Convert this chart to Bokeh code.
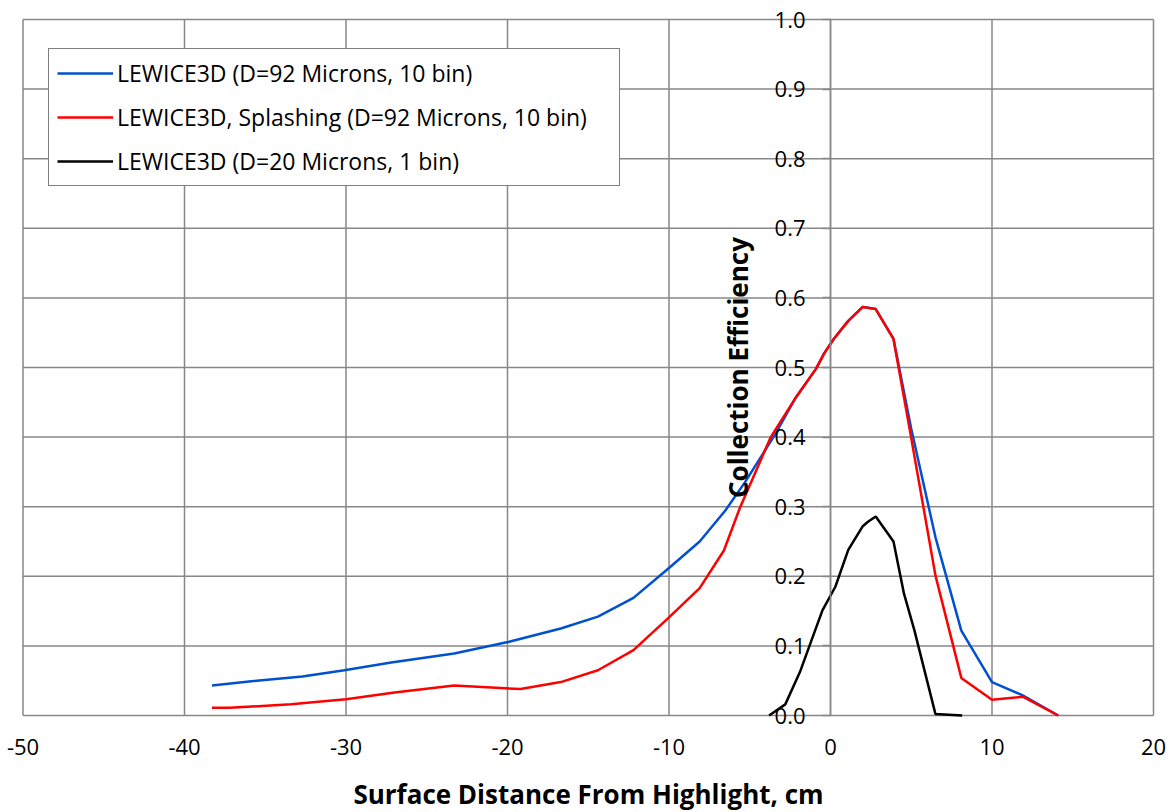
from bokeh.plotting import figure
from bokeh.models import FixedTicker, Legend, LegendItem, Range1d
from bokeh.embed import file_html
from bokeh.resources import INLINE

# ---- data ----
blue_x = [-38.3, -36.0, -32.7, -30.1, -27.2, -23.3, -19.9, -16.7, -14.4, -12.2, -10.0,
          -8.1, -6.5, -5.3, -3.4, -2.2, -0.9, -0.4, 0.2, 1.1, 2.0, 2.8, 3.9, 5.0, 6.5,
          8.1, 10.0, 11.9, 14.1]
blue_y = [0.043, 0.049, 0.056, 0.065, 0.076, 0.089, 0.106, 0.125, 0.142, 0.169, 0.212,
          0.250, 0.295, 0.335, 0.405, 0.455, 0.498, 0.520, 0.541, 0.567, 0.587, 0.584,
          0.541, 0.412, 0.256, 0.122, 0.048, 0.029, 0.0]

red_x = [-38.3, -37.2, -33.4, -30.0, -27.0, -23.3, -19.2, -16.7, -14.4, -12.2, -10.0,
         -8.1, -6.6, -5.6, -3.7, -2.2, -0.9, -0.4, 0.2, 1.1, 2.0, 2.8, 3.9, 4.95, 6.5,
         8.1, 10.0, 11.9, 14.1]
red_y = [0.011, 0.011, 0.016, 0.0235, 0.033, 0.043, 0.038, 0.048, 0.065, 0.094, 0.141,
         0.183, 0.237, 0.299, 0.400, 0.455, 0.498, 0.520, 0.541, 0.567, 0.587, 0.584,
         0.541, 0.405, 0.201, 0.054, 0.0225, 0.027, 0.0]

black_x = [-3.8, -2.8, -1.9, -0.5, 0.3, 1.1, 2.0, 2.3, 2.8, 3.9, 4.55, 5.2, 6.5, 8.15]
black_y = [0.0, 0.016, 0.062, 0.151, 0.185, 0.238, 0.272, 0.278, 0.286, 0.250, 0.175,
           0.122, 0.002, 0.0]

labels = ["LEWICE3D (D=92 Microns, 10 bin)",
          "LEWICE3D, Splashing (D=92 Microns, 10 bin)",
          "LEWICE3D (D=20 Microns, 1 bin)"]

x_ticks = [-50, -40, -30, -20, -10, 0, 10, 20]
y_ticks = [0.0, 0.1, 0.2, 0.3, 0.4, 0.5, 0.6, 0.7, 0.8, 0.9, 1.0]
y_tick_labels = ["0.0", "0.1", "0.2", "0.3", "0.4", "0.5", "0.6", "0.7", "0.8", "0.9", "1.0"]

x_title = "Surface Distance From Highlight, cm"
y_title = "Collection Efficiency"

FONT = "Open Sans"
GRID = "#878787"

# canvas geometry (pixels): the data box spans x 22.5..1153, y 19..715
W, H = 1170, 810
LEFT, RIGHT, TOP, BOTTOM = 22.5, 1153.0, 19.0, 715.0
X0, X1 = x_ticks[0], x_ticks[-1]
Y0, Y1 = y_ticks[0], y_ticks[-1]
sx = (X1 - X0) / (RIGHT - LEFT)
sy = (Y1 - Y0) / (BOTTOM - TOP)
x_range = Range1d(X0 - LEFT * sx, X1 + (W - RIGHT) * sx)
y_range = Range1d(Y0 - (H - BOTTOM) * sy, Y1 + TOP * sy)

p = figure(width=W, height=H, x_range=x_range, y_range=y_range,
           output_backend="svg", toolbar_location=None, min_border=0)
p.background_fill_color = "white"
p.border_fill_color = "white"
p.outline_line_color = None
p.xgrid.visible = False
p.ygrid.visible = False

# grid / frame lines limited to the data box
n, m = len(x_ticks), len(y_ticks)
p.segment(x0=x_ticks, y0=[Y0] * n, x1=x_ticks, y1=[Y1] * n,
          line_color=GRID, line_width=1.5, level="underlay")
p.segment(x0=[X0] * m, y0=y_ticks, x1=[X1] * m, y1=y_ticks,
          line_color=GRID, line_width=1.5, level="underlay")

# x axis at y = 0
xa = p.xaxis[0]
xa.fixed_location = 0
xa.bounds = (X0, X1)
xa.ticker = FixedTicker(ticks=x_ticks)
xa.major_label_overrides = {t: str(t) for t in x_ticks}
xa.axis_line_color = None
xa.major_tick_line_color = None
xa.minor_tick_line_color = None
xa.major_tick_out = 0
xa.major_tick_in = 0
xa.major_label_standoff = 23
xa.major_label_text_font = FONT
xa.major_label_text_font_size = "22px"
xa.major_label_text_color = "black"
xa.axis_label = x_title
xa.axis_label_text_font = FONT
xa.axis_label_text_font_size = "26px"
xa.axis_label_text_font_style = "bold"
xa.axis_label_text_color = "black"
xa.axis_label_standoff = 18

# y axis crossing at x = 0
ya = p.yaxis[0]
ya.fixed_location = 0
ya.bounds = (Y0, Y1)
ya.ticker = FixedTicker(ticks=y_ticks)
ya.major_label_overrides = {t: s for t, s in zip(y_ticks, y_tick_labels)}
ya.axis_line_color = GRID
ya.axis_line_width = 1.5
ya.major_tick_line_color = GRID
ya.major_tick_line_width = 1.5
ya.major_tick_out = 8
ya.major_tick_in = 0
ya.minor_tick_line_color = None
ya.major_label_standoff = 17
ya.major_label_text_font = FONT
ya.major_label_text_font_size = "22px"
ya.major_label_text_color = "black"
ya.axis_label = y_title
ya.axis_label_text_font = FONT
ya.axis_label_text_font_size = "26px"
ya.axis_label_text_font_style = "bold"
ya.axis_label_text_color = "black"
ya.axis_label_standoff = 16

r_blue = p.line(blue_x, blue_y, line_color="#0050d0", line_width=2.5)
r_red = p.line(red_x, red_y, line_color="#ff0000", line_width=2.5)
r_black = p.line(black_x, black_y, line_color="black", line_width=2.5)

legend = Legend(items=[LegendItem(label=labels[0], renderers=[r_blue]),
                       LegendItem(label=labels[1], renderers=[r_red]),
                       LegendItem(label=labels[2], renderers=[r_black])],
                location="top_left", margin=48, padding=8, spacing=12,
                glyph_width=56, glyph_height=24, label_height=24, label_standoff=4,
                label_width=494,
                label_text_font=FONT, label_text_font_size="23px", label_text_color="black",
                border_line_color="black", border_line_width=1.5,
                background_fill_color="white", background_fill_alpha=1.0)
p.add_layout(legend)

open("out.html", "w").write(file_html(p, INLINE))
